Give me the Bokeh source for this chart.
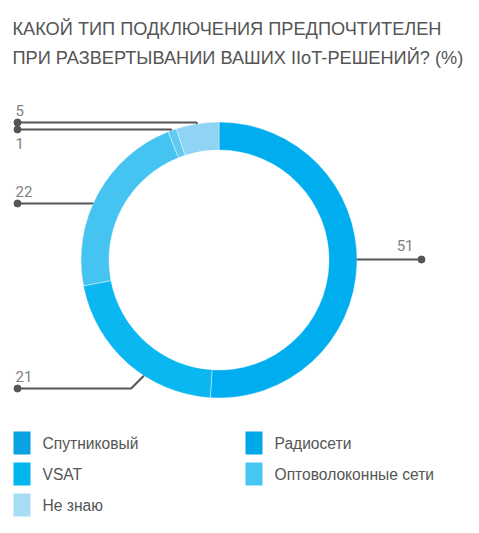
from bokeh.plotting import figure
from bokeh.models import Range1d
from bokeh.embed import file_html
from bokeh.resources import INLINE
from bokeh.core.properties import value
import numpy as np

# ---------------- data ----------------
title_lines = ["КАКОЙ ТИП ПОДКЛЮЧЕНИЯ ПРЕДПОЧТИТЕЛЕН",
               "ПРИ РАЗВЕРТЫВАНИИ ВАШИХ IIoT-РЕШЕНИЙ? (%)"]
ring_categories = ["Радиосети", "VSAT", "Оптоволоконные сети", "Спутниковый", "Не знаю"]
ring_values = [51, 21, 22, 1, 5]
legend_categories = ["Спутниковый", "Радиосети", "VSAT", "Оптоволоконные сети", "Не знаю"]

# ---------------- styles / layout ----------------
ring_colors = ["#00AEEF", "#0BB7F0", "#45C4F1", "#62CAF1", "#8FD4F4"]
legend_colors = ["#0AA2E2", "#00A8E8", "#00B6EF", "#48C6F2", "#A8DCF5"]
label_side = ["right", "left", "left", "left", "left"]
label_line_y = [259, 388, 203, 129, 122]        # picture px
label_below = [False, False, False, True, False]
leader_deg = [90, 213, 294, 340, 351]           # clockwise from 12 o'clock

W, H = 471, 517
TOTAL_H = 533


def sy(y):
    return TOTAL_H - y


p = figure(width=W, height=H, output_backend="svg", toolbar_location=None,
           x_range=Range1d(0, W), y_range=Range1d(TOTAL_H - H, TOTAL_H),
           min_border=0)
p.axis.visible = False
p.grid.visible = False
p.outline_line_color = None
p.background_fill_color = "white"

# title
for i, t in enumerate(title_lines):
    p.text(x=[12], y=[sy(28 + 29 * i)], text=[t], text_font=value("Liberation Sans"),
           text_font_size="18.2px", text_color="#555555", text_baseline="alphabetic",
           text_align="left")

# donut
cx, cy = 218.5, 259.5
r_in, r_out = 110, 138
vals = np.array(ring_values, dtype=float)
cum = np.concatenate([[0], np.cumsum(vals) / vals.sum()])
starts = np.pi / 2 - 2 * np.pi * cum[:-1]
ends = np.pi / 2 - 2 * np.pi * cum[1:]
p.annular_wedge(x=cx, y=sy(cy), inner_radius=r_in, outer_radius=r_out,
                start_angle=starts, end_angle=ends, direction="clock",
                fill_color=ring_colors, line_color="white", line_width=0.4)

# leaders and labels
for v, side, ly, below, deg in zip(ring_values, label_side, label_line_y, label_below, leader_deg):
    a = np.pi / 2 - np.deg2rad(deg)
    ax = cx + r_out * np.cos(a)
    ay = cy - r_out * np.sin(a)
    dy = abs(ly - ay)
    if side == "right":
        ex = ax + dy
        dx_dot = 421
    else:
        ex = ax - dy
        dx_dot = 17
    p.line(x=[ax, ex, dx_dot], y=[sy(ay), sy(ly), sy(ly)], line_color="#555555", line_width=2)
    p.scatter(x=[dx_dot], y=[sy(ly)], size=7, fill_color="#555555", line_color="#555555")
    if side == "right":
        p.text(x=[413], y=[sy(ly - 9)], text=[str(v)], text_font=value("Roboto"),
               text_font_size="15px", text_color="#808080", text_align="right",
               text_baseline="bottom")
    else:
        if below:
            p.text(x=[15], y=[sy(ly + 8)], text=[str(v)], text_font=value("Roboto"),
                   text_font_size="15px", text_color="#808080", text_align="left",
                   text_baseline="top")
        else:
            p.text(x=[15], y=[sy(ly - 7)], text=[str(v)], text_font=value("Roboto"),
                   text_font_size="15px", text_color="#808080", text_align="left",
                   text_baseline="bottom")

# legend
col_x = [13, 245]
row_y = [431, 462, 493]
for i, (cat, col) in enumerate(zip(legend_categories, legend_colors)):
    r, c = divmod(i, 2)
    x0, y0 = col_x[c], row_y[r]
    p.quad(left=[x0], right=[x0 + 17], top=[sy(y0)], bottom=[sy(y0 + 23)],
           fill_color=col, line_color=None)
    p.text(x=[x0 + 29], y=[sy(y0 + 12)], text=[cat], text_font=value("Liberation Sans"),
           text_font_size="15.6px", text_color="#555555", text_baseline="middle",
           text_align="left")

open("out.html", "w").write(file_html(p, INLINE))
